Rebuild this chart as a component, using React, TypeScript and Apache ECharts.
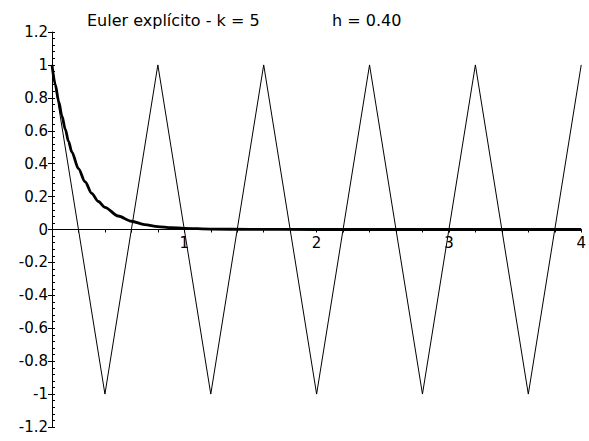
import React, { useEffect, useRef } from "react";
import * as echarts from "echarts";

// Explicit Euler iterates, k = 5, h = 0.40
const eulerT = [0, 0.4, 0.8, 1.2, 1.6, 2.0, 2.4, 2.8, 3.2, 3.6, 4.0];
const eulerY = [1, -1, 1, -1, 1, -1, 1, -1, 1, -1, 1];

// Exact solution y(t), sampled
const exactT = [0, 0.025, 0.05, 0.075, 0.1, 0.125, 0.15, 0.2, 0.25, 0.3, 0.35, 0.4, 0.5, 0.6, 0.7, 0.8, 0.9, 1.0, 1.2, 1.5, 2.0, 3.0, 4.0];
const exactY = [1, 0.88, 0.78, 0.69, 0.61, 0.535, 0.47, 0.37, 0.29, 0.22, 0.17, 0.135, 0.082, 0.05, 0.03, 0.018, 0.011, 0.007, 0.0025, 0.0006, 0, 0, 0];

const titleLeft = "Euler explícito - k = 5";
const titleRight = "h = 0.40";

const FONT = "'DejaVu Sans', sans-serif";

// plot box
const GRID_TOP = 32;
const GRID_BOTTOM = 14;
const Y_MIN = -1.2;
const Y_MAX = 1.2;

export default function App() {
  const ref = useRef<HTMLDivElement>(null);

  useEffect(() => {
    if (!ref.current) return;
    const chart = echarts.init(ref.current, undefined, { renderer: "svg" });
    const isInt = (v: number) => Math.abs(v - Math.round(v)) < 1e-6;
    const plotH = 441 - GRID_TOP - GRID_BOTTOM;
    // shift the x axis up from the bottom edge to the line y = 0
    const zeroOffset = -plotH * (0 - Y_MIN) / (Y_MAX - Y_MIN);

    chart.setOption({
      animation: false,
      backgroundColor: "#ffffff",
      title: [
        {
          text: titleLeft,
          left: 87,
          top: 12,
          padding: 0,
          textStyle: { fontFamily: FONT, fontSize: 16, fontWeight: "normal", color: "#000" },
        },
        {
          text: titleRight,
          left: 332,
          top: 12,
          padding: 0,
          textStyle: { fontFamily: FONT, fontSize: 16, fontWeight: "normal", color: "#000" },
        },
      ],
      grid: { left: 52, right: 3, top: GRID_TOP, bottom: GRID_BOTTOM, containLabel: false },
      xAxis: {
        type: "value",
        min: 0,
        max: 4,
        interval: 0.2,
        position: "bottom",
        offset: zeroOffset,
        axisLine: { onZero: false, lineStyle: { color: "#000", width: 1 } },
        axisTick: { show: true, length: 3, lineStyle: { color: "#000" } },
        axisLabel: {
          margin: 6,
          fontFamily: FONT,
          fontSize: 15,
          color: "#000",
          formatter: (v: number) => (v > 0 && isInt(v) ? String(Math.round(v)) : ""),
        },
        splitLine: { show: false },
      },
      yAxis: [
        {
          type: "value",
          min: Y_MIN,
          max: Y_MAX,
          interval: 0.2,
          axisLine: { show: true, onZero: false, lineStyle: { color: "#000", width: 1 } },
          axisTick: { show: true, length: 4, lineStyle: { color: "#000" } },
          axisLabel: {
            margin: 4,
            fontFamily: FONT,
            fontSize: 15,
            color: "#000",
            formatter: (v: number) => String(Math.round(v * 10) / 10),
          },
          splitLine: { show: false },
        },
        {
          type: "value",
          min: Y_MIN,
          max: Y_MAX,
          interval: 0.04,
          position: "left",
          axisLine: { show: false, onZero: false },
          axisTick: { show: true, inside: true, length: 3, lineStyle: { color: "#000" } },
          axisLabel: { show: false },
          splitLine: { show: false },
        },
      ],
      series: [
        {
          type: "line",
          data: eulerT.map((t, i) => [t, eulerY[i]]),
          showSymbol: false,
          lineStyle: { color: "#000", width: 1 },
          z: 3,
        },
        {
          type: "line",
          data: exactT.map((t, i) => [t, exactY[i]]),
          showSymbol: false,
          smooth: 0.3,
          smoothMonotone: "x",
          lineStyle: { color: "#000", width: 2.8 },
          z: 4,
        },
      ],
    });
    return () => chart.dispose();
  }, []);

  return <div ref={ref} style={{ width: 589, height: 441, position: "absolute", left: 0, top: 0 }} />;
}
